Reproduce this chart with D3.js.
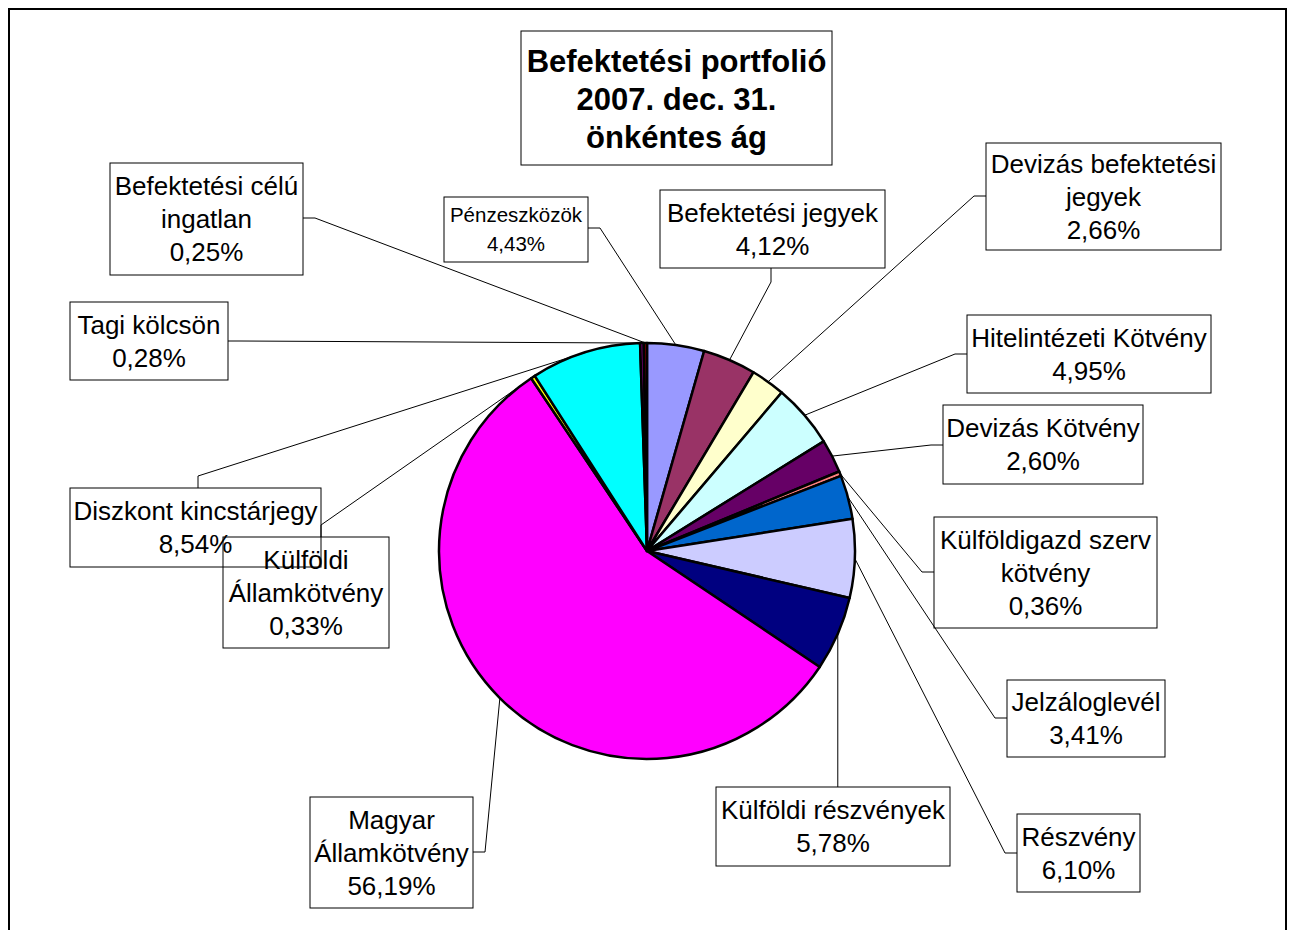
<!DOCTYPE html>
<html>
<head>
<meta charset="utf-8">
<script src="https://cdn.jsdelivr.net/npm/d3@7"></script>
<style>
  body { margin: 0; background: #fff; }
  svg { display: block; font-family: "Liberation Sans", Arial, sans-serif; }
</style>
</head>
<body>
<svg id="chart" width="1293" height="930"></svg>
<script>
// data (clockwise from 12 o'clock)
const categories = [
  "Pénzeszközök", "Befektetési jegyek", "Devizás befektetési jegyek",
  "Hitelintézeti Kötvény", "Devizás Kötvény", "Külföldigazd szerv kötvény",
  "Jelzáloglevél", "Részvény", "Külföldi részvények", "Magyar Államkötvény",
  "Külföldi Államkötvény", "Diszkont kincstárjegy", "Tagi kölcsön",
  "Befektetési célú ingatlan"
];
const values = [4.43, 4.12, 2.66, 4.95, 2.60, 0.36, 3.41, 6.10, 5.78, 56.19, 0.33, 8.54, 0.28, 0.25];
const colors = ["#9999FF", "#993366", "#FFFFCC", "#CCFFFF", "#660066", "#FF8080", "#0066CC",
                "#CCCCFF", "#000080", "#FF00FF", "#FFFF00", "#00FFFF", "#800080", "#800000"];
// how each label is wrapped in its box
const labelLines = [
  ["Pénzeszközök"], ["Befektetési jegyek"], ["Devizás befektetési", "jegyek"],
  ["Hitelintézeti Kötvény"], ["Devizás Kötvény"], ["Külföldigazd szerv", "kötvény"],
  ["Jelzáloglevél"], ["Részvény"], ["Külföldi részvények"], ["Magyar", "Államkötvény"],
  ["Külföldi", "Államkötvény"], ["Diszkont kincstárjegy"], ["Tagi kölcsön"],
  ["Befektetési célú", "ingatlan"]
];
const titleLines = ["Befektetési portfolió", "2007. dec. 31.", "önkéntes ág"];

// label box layout: x, y, w, h, side the leader leaves from, attach coordinate
const boxes = [
  { x: 444, y: 197, w: 144, h: 65, side: "right", at: 228, small: true },
  { x: 660, y: 190, w: 225, h: 78, side: "bottom", at: 771 },
  { x: 986, y: 143, w: 235, h: 107, side: "left", at: 196 },
  { x: 967, y: 315, w: 244, h: 78, side: "left", at: 354 },
  { x: 943, y: 405, w: 200, h: 79, side: "left", at: 445 },
  { x: 934, y: 517, w: 223, h: 111, side: "left", at: 572 },
  { x: 1007, y: 680, w: 158, h: 77, side: "left", at: 718 },
  { x: 1017, y: 814, w: 123, h: 78, side: "left", at: 853 },
  { x: 716, y: 787, w: 234, h: 79, side: "top", at: null },
  { x: 310, y: 797, w: 163, h: 111, side: "right", at: 852 },
  { x: 223, y: 537, w: 166, h: 111, side: "top", at: 321 },
  { x: 70, y: 488, w: 251, h: 79, side: "top", at: 198 },
  { x: 70, y: 302, w: 158, h: 78, side: "right", at: 341 },
  { x: 110, y: 163, w: 193, h: 112, side: "right", at: 218 }
];

const svg = d3.select("#chart");
const cx = 647, cy = 551, r = 208;
const fmt = v => d3.format(".2f")(v).replace(".", ",") + "%";

// outer frame
svg.append("rect")
  .attr("x", 9).attr("y", 9).attr("width", 1277).attr("height", 960)
  .attr("fill", "#fff").attr("stroke", "#000").attr("stroke-width", 2);

const pie = d3.pie().sort(null).value(d => d.v);
const arcs = pie(values.map((v, i) => ({ v, i })));
const arc = d3.arc().innerRadius(0).outerRadius(r);
const edge = d3.arc().innerRadius(r).outerRadius(r);

const g = svg.append("g").attr("transform", `translate(${cx},${cy})`);

// leader lines (drawn under the boxes)
const leaders = svg.append("g");
arcs.forEach((a, i) => {
  const b = boxes[i];
  const [ex, ey] = edge.centroid(a);
  const end = [cx + ex, cy + ey];
  let start, elbow;
  if (b.side === "left") { start = [b.x, b.at]; elbow = [b.x - 12, b.at]; }
  else if (b.side === "right") { start = [b.x + b.w, b.at]; elbow = [b.x + b.w + 12, b.at]; }
  else if (b.side === "bottom") { start = [b.at, b.y + b.h]; elbow = [b.at, b.y + b.h + 14]; }
  else {
    const ax = b.at == null ? end[0] : b.at;
    start = [ax, b.y]; elbow = [ax, b.at == null ? b.y : b.y - 12];
  }
  leaders.append("path")
    .attr("d", d3.line()([start, elbow, end]))
    .attr("fill", "none").attr("stroke", "#000").attr("stroke-width", 1);
});

// slices
g.selectAll("path.slice")
  .data(arcs)
  .join("path")
  .attr("class", "slice")
  .attr("d", arc)
  .attr("fill", d => colors[d.data.i])
  .attr("stroke", "#000")
  .attr("stroke-width", 2.5)
  .attr("stroke-linejoin", "round");

// label boxes
const lab = svg.append("g");
boxes.forEach((b, i) => {
  lab.append("rect")
    .attr("x", b.x).attr("y", b.y).attr("width", b.w).attr("height", b.h)
    .attr("fill", "none").attr("stroke", "#000").attr("stroke-width", 1);
});
boxes.forEach((b, i) => {
  const lines = labelLines[i].concat([fmt(values[i])]);
  const fs = b.small ? 20.5 : 26;
  const lh = b.small ? 29 : 33;
  const top = b.y + b.h / 2 - (lines.length - 1) * lh / 2;
  lines.forEach((t, k) => {
    lab.append("text")
      .attr("x", b.x + b.w / 2).attr("y", top + k * lh)
      .attr("dy", "0.35em")
      .attr("text-anchor", "middle")
      .attr("font-size", fs)
      .attr("fill", "#000")
      .text(t);
  });
});

// title box
const tb = { x: 521, y: 31, w: 311, h: 134 };
svg.append("rect")
  .attr("x", tb.x).attr("y", tb.y).attr("width", tb.w).attr("height", tb.h)
  .attr("fill", "#fff").attr("stroke", "#000").attr("stroke-width", 1);
titleLines.forEach((t, k) => {
  svg.append("text")
    .attr("x", tb.x + tb.w / 2).attr("y", 61 + k * 38)
    .attr("dy", "0.35em")
    .attr("text-anchor", "middle")
    .attr("font-size", 31).attr("font-weight", "bold")
    .text(t);
});
</script>
</body>
</html>
